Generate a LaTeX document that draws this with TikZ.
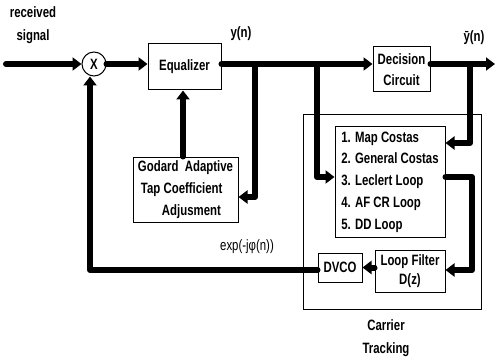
\documentclass[tikz,border=0pt]{standalone}
\usepackage{fontspec}
\setmainfont{Liberation Sans}[FakeStretch=0.76]
\usetikzlibrary{arrows.meta}
\begin{document}
\begin{tikzpicture}[x=1pt,y=-1pt,
  box/.style={draw,line width=1pt,rectangle,inner sep=0pt,font=\bfseries\fontsize{15}{19}\selectfont,align=center},
  wire/.style={line width=6pt,line join=round,line cap=round},
  arr/.style={wire,-{Triangle[length=9pt,width=13pt]}},
  lbl/.style={font=\bfseries\fontsize{15}{19}\selectfont,align=center}]
\useasboundingbox (0,0) rectangle (496,361);
% nodes
\node[draw,circle,line width=1pt,minimum size=24pt,inner sep=0pt,lbl] (mult) at (94,64) {X};
\node[box,minimum width=73pt,minimum height=46pt] (eq) at (184.5,67) {Equalizer};
\node[box,minimum width=57pt,minimum height=45pt,font=\bfseries\fontsize{15}{21}\selectfont] (dec) at (401.5,69.5) {Decision\\Circuit};
\node[box,minimum width=105pt,minimum height=65pt,align=left,font=\bfseries\fontsize{15}{22}\selectfont] (god) at (185.5,189.5) {Godard~~Adaptive\\\hspace{3pt}Tap Coefficient\\\hspace{24pt}Adjusment};
\node[draw,line width=1pt,minimum width=178pt,minimum height=194pt,inner sep=0pt] (ct) at (392,212) {};
\node[box,minimum width=110pt,minimum height=110pt,align=left,font=\bfseries\fontsize{15}{21.8}\selectfont] (list) at (390,182) {1. Map Costas\\2. General Costas\\3. Leclert Loop\\4. AF CR Loop\\5. DD Loop};
\node[box,minimum width=70pt,minimum height=42pt,font=\bfseries\fontsize{15}{19}\selectfont] (lf) at (410,271) {Loop Filter\\D(z)};
\node[box,minimum width=44pt,minimum height=29pt] (dvco) at (340,267.5) {DVCO};
% labels
\node[lbl,font=\bfseries\fontsize{15}{23}\selectfont] (rs) at (33,25) {received\\signal};
\node[lbl] (yn) at (241,34) {y(n)};
\node[lbl] (yhat) at (474,38) {\=y(n)};
\node[lbl,font=\fontsize{15}{19}\selectfont] (ex) at (247,247) {exp(-jφ(n))};
\node[lbl,font=\bfseries\fontsize{15}{23}\selectfont] (ctl) at (386,338) {Carrier\\Tracking};
% coordinates
\coordinate (in) at (6,64);
\coordinate (out) at (495,64);
\coordinate (b1) at (255,64);
\coordinate (b1d) at (255,197);
\coordinate (b2) at (317,64);
\coordinate (b2d) at (317,177);
\coordinate (b3) at (470,64);
\coordinate (b3d) at (470,143);
\coordinate (c1) at (472,177);
\coordinate (c2) at (472,270);
\coordinate (fb) at (90,270);
% connectors
\draw[arr] (in) -- (mult.west);
\draw[arr] (mult.east) -- (mult.east -| eq.west);
\draw[arr] (eq.east |- mult.east) -- (mult.east -| dec.west);
\draw[arr] (dec.east |- out) -- (out);
\draw[arr] (b1) -- (b1d) -- (b1d -| god.east);
\draw[arr] (b2) -- (b2d) -- (b2d -| list.west);
\draw[arr] (b3) -- (b3d) -- (b3d -| list.east);
\draw[arr] (c1 -| list.east) -- (c1) -- (c2) -- (c2 -| lf.east);
\draw[arr] (lf.west |- dvco.east) -- (dvco.east);
\draw[arr] (dvco.west |- fb) -- (fb) -- (fb |- mult.south);
\draw[arr] (god.north -| 183,0) -- (eq.south -| 183,0);
\end{tikzpicture}
\end{document}
